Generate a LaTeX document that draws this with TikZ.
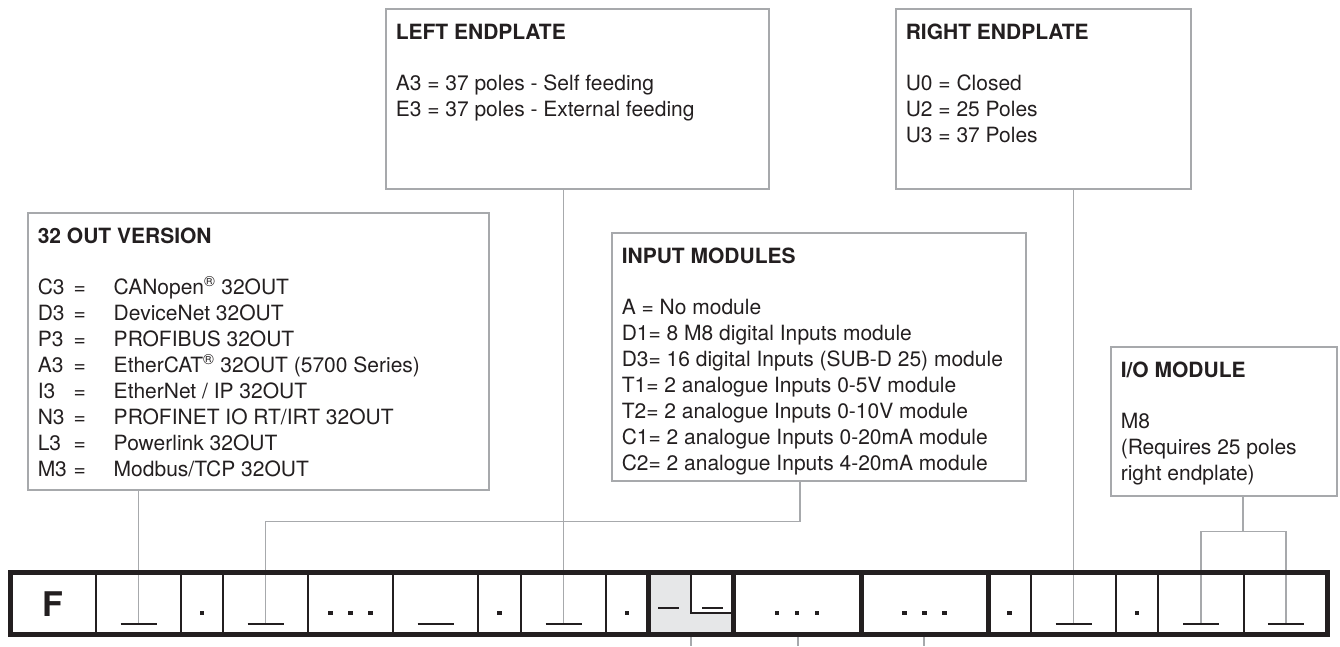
\documentclass[tikz,border=0pt]{standalone}
\usepackage{fontspec}
\setmainfont{TeX Gyre Heros}
\usetikzlibrary{positioning}
\definecolor{linegrey}{HTML}{A7A9AC}
\definecolor{ink}{HTML}{231F20}
\definecolor{cellgrey}{HTML}{E6E7E8}

\tikzset{
  infobox/.style={draw=linegrey, line width=1.5pt, anchor=north west,
    inner xsep=10pt, inner ysep=15pt, text=ink,
    font=\fontsize{21}{26}\selectfont},
  conn/.style={draw=linegrey, line width=1.5pt},
  bardiv/.style={draw=ink, line width=1.3pt},
  barthick/.style={draw=ink, line width=5pt},
  blank/.style={draw=ink, line width=2.5pt},
  dotmark/.style={fill=ink, minimum size=4.5pt, inner sep=0pt}
}
\newcommand{\boxtext}[3]{\parbox[t][#2][t]{#1}{\raggedright #3}}
\newcommand{\code}[2]{\makebox[36pt][l]{#1}\makebox[40pt][l]{=}#2}

\begin{document}
\begin{tikzpicture}[x=1pt, y=-1pt]

\useasboundingbox (0,0) rectangle (1340,646);

\node[infobox] (outbox) at (27,212) {\boxtext{441pt}{247pt}{%
  \textbf{32 OUT VERSION}\\[25pt]
  \code{C3}{CANopen\textsuperscript{®} 32OUT}\\
  \code{D3}{DeviceNet 32OUT}\\
  \code{P3}{PROFIBUS 32OUT}\\
  \code{A3}{EtherCAT\textsuperscript{®} 32OUT (5700 Series)}\\
  \code{I3}{EtherNet / IP 32OUT}\\
  \code{N3}{PROFINET IO RT/IRT 32OUT}\\
  \code{L3}{Powerlink 32OUT}\\
  \code{M3}{Modbus/TCP 32OUT}}};

\node[infobox] (leftbox) at (385,8) {\boxtext{363pt}{150pt}{%
  \textbf{LEFT ENDPLATE}\\[25pt]
  A3 = 37 poles - Self feeding\\
  E3 = 37 poles - External feeding}};

\node[infobox] (rightbox) at (895,8) {\boxtext{275pt}{150pt}{%
  \textbf{RIGHT ENDPLATE}\\[25pt]
  U0 = Closed\\
  U2 = 25 Poles\\
  U3 = 37 Poles}};

\node[infobox] (inbox) at (611,232) {\boxtext{394pt}{218pt}{%
  \textbf{INPUT MODULES}\\[25pt]
  A = No module\\
  D1= 8 M8 digital Inputs module\\
  D3= 16 digital Inputs (SUB-D 25) module\\
  T1= 2 analogue Inputs 0-5V module\\
  T2= 2 analogue Inputs 0-10V module\\
  C1= 2 analogue Inputs 0-20mA module\\
  C2= 2 analogue Inputs 4-20mA module}};

\node[infobox] (iobox) at (1110,346) {\boxtext{206pt}{119pt}{%
  \textbf{I/O MODULE}\\[25pt]
  M8\\
  (Requires 25 poles\\
  right endplate)}};

\foreach \c [count=\i] in {138.5,265.5,435.5,563.5,1073.5,1201,1285.75}
  \coordinate (u\i) at (\c,624);

\draw[conn] (outbox.south -| u1) -- (u1);
\draw[conn] ([xshift=189pt]inbox.south west) -- ++(0,40) -| (u2);
\draw[conn] (leftbox.south -| u4) -- (u4);
\draw[conn] (rightbox.south -| u5) -- (u5);
\draw[conn] ([xshift=133pt]iobox.south west) -- ++(0,35) coordinate (iojoin);
\draw[conn] (u6) |- (iojoin) -| (u7);
\foreach \x [count=\i] in {691,798,924} {
  \coordinate (low\i) at (\x,646);
  \draw[conn] (\x,637) -- (low\i);
}

\fill[cellgrey] (648,572.5) rectangle (733,634.5);
\fill[white] (691,572.5) rectangle (733,613);
\draw[bardiv] (691,572.5) |- (733,613);

\foreach \x in {96,181,223,308,393,478,521,606,1031,1116,1158,1244}
  \draw[bardiv] (\x,572.5) -- (\x,634.5);
\foreach \x in {648,733,861,988}
  \draw[barthick] (\x,572.5) -- (\x,634.5);
\draw[barthick] (10.5,572.5) rectangle (1327.5,634.5);

\node[text=ink, font=\fontsize{34}{34}\selectfont\bfseries] (fcell) at (53,604) {F};

\foreach \i in {1,...,7}
  \draw[blank] ([xshift=-18pt]u\i) -- ([xshift=18pt]u\i);
\draw[blank] (658,608) -- (679,608);
\draw[blank] (702,608) -- (723,608);

\foreach \x [count=\i] in {202,499.5,627,1009.5,1137}
  \node[dotmark] (dot\i) at (\x,613) {};
\foreach \x [count=\i] in {350.5,797,924.5}
  \foreach \d [count=\j] in {-20,0,20}
    \node[dotmark] (dots\i\j) at (\x+\d,613) {};

\end{tikzpicture}
\end{document}
